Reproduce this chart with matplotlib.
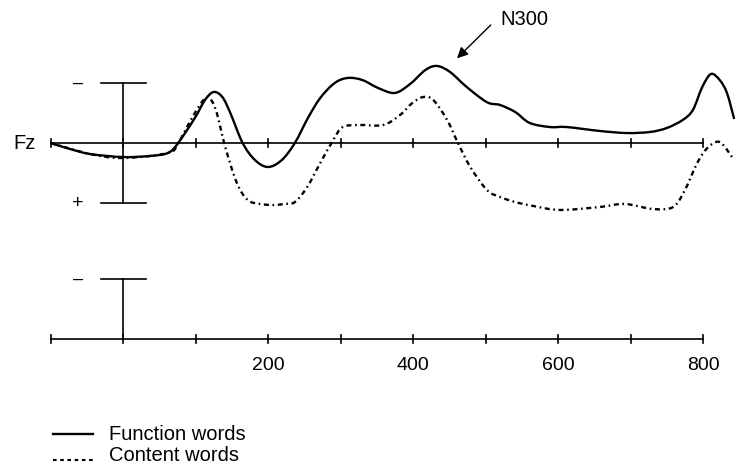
import matplotlib
matplotlib.use("Agg")
import matplotlib.pyplot as plt
from matplotlib.path import Path
from matplotlib.patches import PathPatch

plt.rcParams['font.family'] = ['Liberation Sans', 'DejaVu Sans']
plt.rcParams['lines.scale_dashes'] = False

# Time (ms) and amplitude (µV, negative up)
func_t = [-100, -73, -45, 0, 37, 62, 76, 99, 113, 125, 137, 148, 165, 182, 200, 219, 237,
          255, 272, 292, 310, 330, 352, 375, 396, 417, 433, 451, 474, 502, 520, 541, 561,
          589, 612, 658, 695, 727, 750, 772, 786, 799, 811, 823, 833, 843]
func_v = [0, 0.5, 0.92, 1.17, 1.08, 0.83, 0, -2.08, -3.58, -4.25, -3.83, -2.5, 0, 1.42, 2.0,
          1.42, 0, -2.08, -3.75, -5.0, -5.42, -5.25, -4.58, -4.17, -4.92, -6.08, -6.42, -5.92,
          -4.67, -3.4, -3.17, -2.58, -1.67, -1.33, -1.33, -1.0, -0.83, -0.92, -1.25, -1.92,
          -2.75, -4.67, -5.75, -5.25, -4.17, -2.0]

cont_t = [-100, -45, 0, 62, 76, 92, 106, 117, 128, 141, 157, 172, 189, 207, 223, 237, 254,
          272, 290, 303, 327, 359, 382, 399, 414, 428, 447, 462, 479, 502, 520, 541, 566,
          603, 658, 692, 731, 759, 775, 792, 806, 823, 841]
cont_v = [0, 0.92, 1.25, 0.83, 0, -1.75, -3.17, -3.83, -2.75, 0.33, 3.33, 4.75, 5.08, 5.17,
          5.08, 4.92, 3.67, 1.67, -0.25, -1.33, -1.5, -1.5, -2.33, -3.33, -3.83, -3.58, -1.92,
          0, 2.0, 3.92, 4.5, 4.92, 5.25, 5.58, 5.33, 5.08, 5.5, 5.33, 3.92, 1.67, 0.42, -0.08,
          1.25]

tick_times = [-100, 0, 100, 200, 300, 400, 500, 600, 700, 800]
tick_labels = ["200", "400", "600", "800"]
tick_label_pos = [200, 400, 600, 800]
scale_uv = 5.0
channel = "Fz"
series_names = ["Function words", "Content words"]


def smooth_path(xs, ys):
    """Catmull-Rom curve through the given points, drawn as cubic Bezier segments."""
    pts = list(zip(xs, ys))
    n = len(pts)
    verts = [pts[0]]
    codes = [Path.MOVETO]
    for i in range(n - 1):
        p0 = pts[i - 1] if i > 0 else pts[i]
        p1 = pts[i]
        p2 = pts[i + 1]
        p3 = pts[i + 2] if i + 2 < n else pts[i + 1]
        c1 = (p1[0] + (p2[0] - p0[0]) / 6.0, p1[1] + (p2[1] - p0[1]) / 6.0)
        c2 = (p2[0] - (p3[0] - p1[0]) / 6.0, p2[1] - (p3[1] - p1[1]) / 6.0)
        verts += [c1, c2, p2]
        codes += [Path.CURVE4] * 3
    return Path(verts, codes)


fig = plt.figure(figsize=(7.36, 4.67), dpi=100)
ax = fig.add_axes([0, 0, 1, 1])
ax.set_xlim(-169.7, 845.5)
ax.set_ylim(27.0, -11.917)
ax.axis('off')

k = 'black'
axlw = 1.2
tick_h = 0.35
dash_pat = (0, (3.6, 2.6, 1.2, 2.6))

# Fz axis
ax.plot([tick_times[0], tick_times[-1]], [0, 0], color=k, lw=axlw)
for t in tick_times:
    ax.plot([t, t], [-tick_h, tick_h], color=k, lw=axlw)
# upper scale bar
bw = 31
ax.plot([0, 0], [-scale_uv, scale_uv], color=k, lw=axlw)
ax.plot([-bw, bw], [-scale_uv, -scale_uv], color=k, lw=axlw)
ax.plot([-bw, bw], [scale_uv, scale_uv], color=k, lw=axlw)
ax.text(-62, -scale_uv, "\u2013", ha='center', va='center', fontsize=13)
ax.text(-62, scale_uv, "+", ha='center', va='center', fontsize=14)
ax.text(-136, 0, channel, ha='center', va='center', fontsize=14.5)

# lower axis
y2 = 16.35
ax.plot([tick_times[0], tick_times[-1]], [y2, y2], color=k, lw=axlw)
for t in tick_times:
    ax.plot([t, t], [y2 - tick_h, y2 + tick_h], color=k, lw=axlw)
ax.plot([0, 0], [y2 - scale_uv, y2], color=k, lw=axlw)
ax.plot([-bw, bw], [y2 - scale_uv, y2 - scale_uv], color=k, lw=axlw)
ax.text(-62, y2 - scale_uv, "\u2013", ha='center', va='center', fontsize=13)
for t, lab in zip(tick_label_pos, tick_labels):
    ax.text(t, 18.5, lab, ha='center', va='center', fontsize=14)

# waveforms
ax.add_patch(PathPatch(smooth_path(func_t, func_v), fill=False, edgecolor=k, lw=1.7,
                       joinstyle='round', capstyle='butt'))
ax.add_patch(PathPatch(smooth_path(cont_t, cont_v), fill=False, edgecolor=k, lw=1.7,
                       linestyle=dash_pat))

# N300 annotation
ax.annotate("", xy=(458, -6.9), xytext=(510, -10.0),
            arrowprops=dict(arrowstyle='-|>', color=k, lw=1.0, mutation_scale=16))
ax.text(520, -10.3, "N300", ha='left', va='center', fontsize=14.5)

# legend
ly1, ly2 = 24.25, 26.4
lx0, lx1 = -96, -41
ax.plot([lx0, lx1], [ly1, ly1], color=k, lw=1.7)
ax.plot([lx0, lx1], [ly2, ly2], color=k, lw=1.5, linestyle=(0, (2.6, 2.6)))
ax.text(-19, 24.75, series_names[0], ha='left', va='baseline', fontsize=14.5)
ax.text(-19, 26.5, series_names[1], ha='left', va='baseline', fontsize=14.5)

fig.savefig("out.png", dpi=100)
